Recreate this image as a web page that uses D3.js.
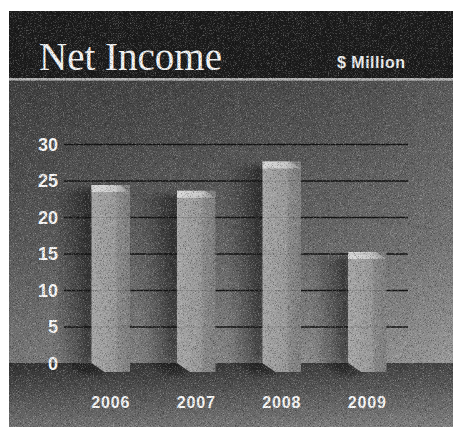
<!DOCTYPE html>
<html>
<head>
<meta charset="utf-8">
<script src="https://cdn.jsdelivr.net/npm/d3@7"></script>
<style>
  html, body { margin: 0; padding: 0; background: #fff; }
  svg { display: block; }
</style>
</head>
<body>
<div id="chart"></div>
<script>
// data
const years = ["2006", "2007", "2008", "2009"];
const netIncome = [24.4, 23.6, 27.6, 15.2];
const yTicks = [0, 5, 10, 15, 20, 25, 30];
const title = "Net Income";
const unitLabel = "$ Million";

const W = 453, H = 427;
const panel = { x: 9, y: 11 };
const bandBottom = 78;   // bottom of the dark title band
const floorY = 363;      // where the wall meets the floor (value 0)
const depth = 9;         // how far the bar fronts hang below the wall line

const svg = d3.select("#chart")
    .append("svg")
    .attr("width", W)
    .attr("height", H);

const defs = svg.append("defs");

// ---- gradients
function linGrad(id, x1, y1, x2, y2, stops) {
    const g = defs.append("linearGradient")
        .attr("id", id)
        .attr("x1", x1).attr("y1", y1)
        .attr("x2", x2).attr("y2", y2);
    stops.forEach(s => {
        g.append("stop")
            .attr("offset", s[0])
            .attr("stop-color", s[1])
            .attr("stop-opacity", s[2] === undefined ? 1 : s[2]);
    });
}

linGrad("wallGrad", "0%", "0%", "0%", "100%", [
    ["0%", "#4a4a4a"], ["55%", "#686868"], ["100%", "#909090"]
]);
linGrad("wallSide", "0%", "0%", "100%", "0%", [
    ["0%", "#000", 0.18], ["60%", "#000", 0.04], ["100%", "#fff", 0.08]
]);
linGrad("floorGrad", "0%", "0%", "0%", "100%", [
    ["0%", "#323232"], ["100%", "#767676"]
]);
linGrad("floorSide", "0%", "0%", "100%", "0%", [
    ["0%", "#000", 0.05], ["100%", "#fff", 0.08]
]);
linGrad("barGrad", "0%", "0%", "100%", "0%", [
    ["0%", "#a6a6a6"], ["62%", "#989898"], ["68%", "#8a8a8a"], ["100%", "#7e7e7e"]
]);
linGrad("capGrad", "0%", "0%", "100%", "0%", [
    ["0%", "#dadada"], ["60%", "#c8c8c8"], ["100%", "#8c8c8c"]
]);
linGrad("shadowGrad", "0%", "0%", "100%", "0%", [
    ["0%", "#000", 0], ["55%", "#000", 0.3], ["100%", "#000", 0.6]
]);

const soft = defs.append("filter").attr("id", "soft")
    .attr("x", "-50%").attr("y", "-20%").attr("width", "200%").attr("height", "140%");
soft.append("feGaussianBlur").attr("stdDeviation", 3);

// grain like the printed screen of the original: dark and light specks
function grainFilter(id, seed, matrix) {
    const f = defs.append("filter").attr("id", id)
        .attr("x", 0).attr("y", 0).attr("width", "100%").attr("height", "100%");
    f.append("feTurbulence")
        .attr("type", "fractalNoise")
        .attr("baseFrequency", 1.4)
        .attr("numOctaves", 1)
        .attr("seed", seed);
    f.append("feColorMatrix")
        .attr("type", "matrix")
        .attr("values", matrix);
}
grainFilter("grainDark", 3, "0 0 0 0 0  0 0 0 0 0  0 0 0 0 0  -3 0 0 0 1.45");
grainFilter("grainLight", 11, "0 0 0 0 1  0 0 0 0 1  0 0 0 0 1  3 0 0 0 -1.55");

// ---- panel background
svg.append("rect")
    .attr("x", panel.x).attr("y", panel.y)
    .attr("width", W - panel.x).attr("height", bandBottom - panel.y)
    .attr("fill", "#1b1b1b");

svg.append("rect")
    .attr("x", panel.x).attr("y", bandBottom)
    .attr("width", W - panel.x).attr("height", 2.5)
    .attr("fill", "#b2b2b2");

svg.append("rect")
    .attr("x", panel.x).attr("y", bandBottom + 2.5)
    .attr("width", W - panel.x).attr("height", floorY - bandBottom - 2.5)
    .attr("fill", "url(#wallGrad)");
svg.append("rect")
    .attr("x", panel.x).attr("y", bandBottom + 2.5)
    .attr("width", W - panel.x).attr("height", floorY - bandBottom - 2.5)
    .attr("fill", "url(#wallSide)");

svg.append("rect")
    .attr("x", panel.x).attr("y", floorY)
    .attr("width", W - panel.x).attr("height", H - floorY)
    .attr("fill", "url(#floorGrad)");
svg.append("rect")
    .attr("x", panel.x).attr("y", floorY)
    .attr("width", W - panel.x).attr("height", H - floorY)
    .attr("fill", "url(#floorSide)");

// ---- scales
const x = d3.scaleBand()
    .domain(years)
    .range([68, 410])
    .paddingInner(0.55)
    .paddingOuter(0.275);

const y = d3.scaleLinear()
    .domain([0, 30])
    .range([floorY, 144]);

const bw = x.bandwidth();

// soft shadow thrown on the wall, left of each bar (under the gridlines)
svg.append("g").selectAll("rect")
    .data(netIncome)
    .enter()
    .append("rect")
    .attr("x", (d, i) => x(years[i]) - 36)
    .attr("y", d => y(d) + 4)
    .attr("width", 38)
    .attr("height", d => floorY - y(d) - 4)
    .attr("fill", "url(#shadowGrad)")
    .attr("filter", "url(#soft)");

// ---- gridlines + tick labels
const axis = svg.append("g")
    .attr("transform", "translate(64,0)")
    .call(d3.axisLeft(y).tickValues(yTicks).tickSize(-344).tickPadding(6));
axis.select(".domain").remove();
axis.selectAll(".tick line")
    .attr("stroke", "#161616")
    .attr("stroke-width", 1.4)
    .attr("opacity", d => d === 0 ? 0 : 1);
axis.selectAll(".tick text")
    .attr("fill", "#f6f6f6")
    .attr("dy", "0.36em")
    .style("font-family", "'Liberation Sans', Arial, sans-serif")
    .style("font-weight", "bold")
    .style("font-size", "18px");

// ---- bars
const bars = svg.selectAll(".bar")
    .data(netIncome)
    .enter()
    .append("g")
    .attr("class", "bar");

// shadow on the floor
bars.append("path")
    .attr("d", (d, i) => {
        const x0 = x(years[i]);
        return `M${x0 - 24},${floorY} L${x0},${floorY} L${x0 + 16},${floorY + depth + 3} L${x0 - 10},${floorY + depth + 3} Z`;
    })
    .attr("fill", "#000")
    .attr("opacity", 0.35)
    .attr("filter", "url(#soft)");

// front of the column, chamfered at the bottom left
bars.append("path")
    .attr("d", (d, i) => {
        const x0 = x(years[i]);
        const top = y(d);
        return `M${x0},${top} L${x0 + bw},${top} L${x0 + bw},${floorY + depth} ` +
            `L${x0 + 13},${floorY + depth} L${x0},${floorY} Z`;
    })
    .attr("fill", "url(#barGrad)");

// lit top
bars.append("path")
    .attr("d", (d, i) => {
        const x0 = x(years[i]);
        const top = y(d);
        return `M${x0},${top} L${x0 + bw * 0.72},${top} L${x0 + bw},${top + 7} L${x0},${top + 7} Z`;
    })
    .attr("fill", "url(#capGrad)");

// gridlines show faintly through the columns
const ghost = svg.append("g")
    .attr("transform", "translate(64,0)")
    .call(d3.axisLeft(y).tickValues(yTicks.filter(d => d > 0)).tickSize(-344).tickFormat(""));
ghost.select(".domain").remove();
ghost.selectAll(".tick line")
    .attr("stroke", "#000")
    .attr("stroke-width", 1.2)
    .attr("opacity", 0.12);

// ---- year labels
svg.append("g")
    .attr("transform", "translate(0,408)")
    .call(d3.axisBottom(x).tickSize(0).tickPadding(0))
    .call(g => g.select(".domain").remove())
    .selectAll("text")
    .attr("y", 0)
    .attr("dy", 0)
    .attr("fill", "#f6f6f6")
    .style("font-family", "'Liberation Sans', Arial, sans-serif")
    .style("font-weight", "bold")
    .style("font-size", "16px")
    .style("letter-spacing", "0.8px");

// ---- titles
svg.append("text")
    .attr("x", 39)
    .attr("y", 70)
    .attr("fill", "#f4f4f4")
    .style("font-family", "'Liberation Serif', 'Times New Roman', serif")
    .style("font-size", "39px")
    .text(title);

svg.append("text")
    .attr("x", 337)
    .attr("y", 68)
    .attr("fill", "#eeeeee")
    .style("font-family", "'Liberation Sans', Arial, sans-serif")
    .style("font-weight", "bold")
    .style("font-size", "16px")
    .style("letter-spacing", "0.5px")
    .text(unitLabel);

// ---- grain overlay across the panel
svg.append("rect")
    .attr("x", panel.x).attr("y", panel.y)
    .attr("width", W - panel.x).attr("height", H - panel.y)
    .attr("filter", "url(#grainDark)")
    .attr("opacity", 0.45);
svg.append("rect")
    .attr("x", panel.x).attr("y", panel.y)
    .attr("width", W - panel.x).attr("height", H - panel.y)
    .attr("filter", "url(#grainLight)")
    .attr("opacity", 0.35);
</script>
</body>
</html>
